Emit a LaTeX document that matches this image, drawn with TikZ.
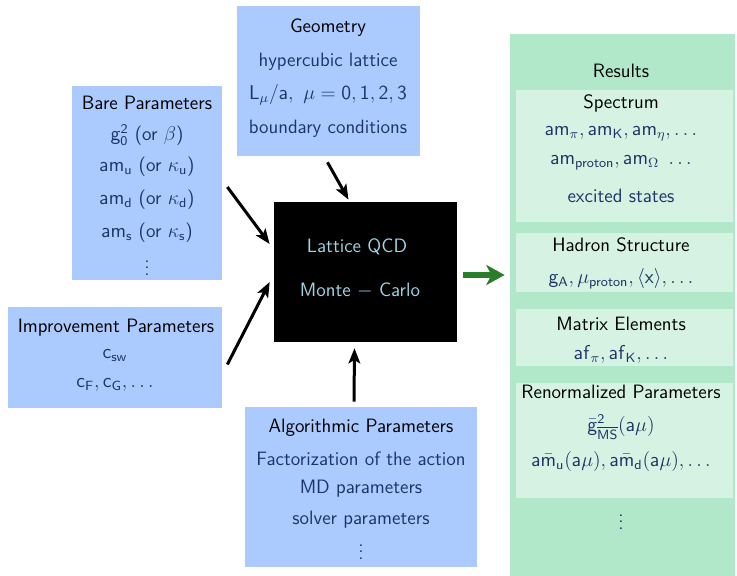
\documentclass[tikz,border=0pt]{standalone}
\usetikzlibrary{arrows.meta,calc}
\definecolor{boxblue}{HTML}{ABCBFF}
\definecolor{resgreen}{HTML}{B1E8C9}
\definecolor{innergreen}{HTML}{D6F2E3}
\definecolor{txtblue}{HTML}{1C3566}
\definecolor{mcblue}{HTML}{9FD3E3}
\definecolor{arrgreen}{HTML}{2A7E2A}
\newcommand{\ms}[1]{\mathsf{#1}}
\begin{document}
\begin{tikzpicture}[x=0.6pt,y=-0.6pt,
  every node/.style={font=\sffamily\fontsize{11.6}{13.5}\selectfont, inner sep=0pt},
  ttl/.style={text=black},
  itm/.style={text=txtblue},
  arr/.style={line width=1.8pt, -{Stealth[length=9pt,width=7pt,inset=2pt]}},
  garr/.style={line width=4pt, arrgreen, -{Stealth[length=11pt,width=12pt,inset=3pt]}}]
\useasboundingbox (0,0) rectangle (737,576);

% input boxes
\node[fill=boxblue, minimum width=183*0.6pt, minimum height=150*0.6pt] (geo) at (328.5,81) {};
\node[fill=boxblue, minimum width=150*0.6pt, minimum height=194*0.6pt] (bare) at (147,183) {};
\node[fill=boxblue, minimum width=214*0.6pt, minimum height=101*0.6pt] (impr) at (115,357.5) {};
\node[fill=boxblue, minimum width=232*0.6pt, minimum height=160*0.6pt] (algo) at (361,487) {};

% central box
\node[fill=black, minimum width=183*0.6pt, minimum height=140*0.6pt] (mc) at (365.5,272) {};

% results column
\node[fill=resgreen, minimum width=225*0.6pt, minimum height=542*0.6pt] (res) at (622.5,305) {};
\node[fill=innergreen, minimum width=217*0.6pt, minimum height=132*0.6pt] (spec) at (624.5,156) {};
\node[fill=innergreen, minimum width=217*0.6pt, minimum height=59*0.6pt] (hadr) at (624.5,262.5) {};
\node[fill=innergreen, minimum width=217*0.6pt, minimum height=57*0.6pt] (matr) at (624.5,337.5) {};
\node[fill=innergreen, minimum width=217*0.6pt, minimum height=115*0.6pt] (renm) at (624.5,440.5) {};

% texts: geometry
\node[ttl] (geoT) at (328,28) {Geometry};
\node[itm] (geo1) at (328,62) {hypercubic lattice};
\node[itm] (geo2) at (328,95) {$\ms{L}_\mu/\ms{a},\ \mu=\ms{0,1,2,3}$};
\node[itm] (geo3) at (328,129) {boundary conditions};

% texts: bare parameters
\node[ttl] (bareT) at (147,103) {Bare Parameters};
\node[itm] (bare1) at (147,135) {$\ms{g}_\ms{0}^\ms{2}$ (or $\beta$)};
\node[itm] (bare2) at (147,167) {$\ms{am}_\ms{u}$ (or $\kappa_\ms{u}$)};
\node[itm] (bare3) at (147,200) {$\ms{am}_\ms{d}$ (or $\kappa_\ms{d}$)};
\node[itm] (bare4) at (147,233) {$\ms{am}_\ms{s}$ (or $\kappa_\ms{s}$)};
\node[itm] (bare5) at (147,263) {$\vdots$};

% texts: improvement parameters
\node[ttl] (imprT) at (116,328) {Improvement Parameters};
\node[itm] (impr1) at (115,356) {$\ms{c}_\ms{sw}$};
\node[itm] (impr2) at (115,385) {$\ms{c}_\ms{F},\ms{c}_\ms{G},\ldots$};

% texts: algorithmic parameters
\node[ttl] (algoT) at (361,428) {Algorithmic Parameters};
\node[itm] (algo1) at (361,459) {Factorization of the action};
\node[itm] (algo2) at (361,489) {MD parameters};
\node[itm] (algo3) at (361,520) {solver parameters};
\node[itm] (algo4) at (361,547) {$\vdots$};

% texts: central box
\node[text=mcblue] (mc1) at (357,247) {Lattice QCD};
\node[text=mcblue] (mc2) at (360,291) {Monte $-$ Carlo};

% texts: results
\node[ttl] (resT) at (621,71) {Results};
\node[ttl] (specT) at (621,103) {Spectrum};
\node[itm] (spec1) at (621,134) {$\ms{am}_\pi,\ms{am}_\ms{K},\ms{am}_\eta,\ldots$};
\node[itm] (spec2) at (621,163) {$\ms{am}_\ms{proton},\ms{am}_\Omega\ \ldots$};
\node[itm] (spec3) at (621,196) {excited states};
\node[ttl] (hadrT) at (621,245) {Hadron Structure};
\node[itm] (hadr1) at (621,279) {$\ms{g}_\ms{A},\mu_\ms{proton},\langle\ms{x}\rangle,\ldots$};
\node[ttl] (matrT) at (621,324) {Matrix Elements};
\node[itm] (matr1) at (621,354) {$\ms{af}_\pi,\ms{af}_\ms{K},\ldots$};
\node[ttl] (renmT) at (621,392) {Renormalized Parameters};
\node[itm] (renm1) at (621,427) {$\bar{\ms{g}}^\ms{2}_{\overline{\ms{MS}}}(\ms{a}\mu)$};
\node[itm] (renm2) at (621,461) {$\ms{a}\bar{\ms{m}}_\ms{u}(\ms{a}\mu),\ms{a}\bar{\ms{m}}_\ms{d}(\ms{a}\mu),\ldots$};
\node[itm] (resM) at (621,517) {$\vdots$};

% connectors into the simulation
\draw[arr] ($(bare.east)+(5,4)$) -- ($(mc.west)+(-4,-28)$);
\draw[arr] ($(impr.east)+(5,7)$) -- ($(mc.west)+(-4,10)$);
\draw[arr] ($(geo.south)+(-1,6)$) -- ($(mc.north)+(-17,-2)$);
\draw[arr] ($(algo.north)+(-7,-5)$) -- ($(mc.south)+(-11,6)$);
% output to results
\draw[garr] ($(mc.east)+(6,3)$) -- ($(res.west |- mc.east)+(-5,3)$);
\end{tikzpicture}
\end{document}
